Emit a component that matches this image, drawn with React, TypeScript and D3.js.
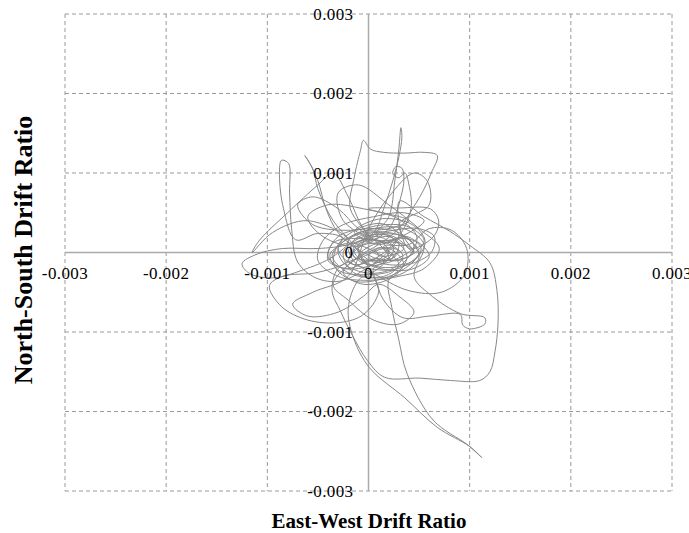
import React from "react";
import * as d3 from "d3";

// Axis ticks (drift ratio, in units of 1e-3 for the scales)
const tickValues = [-3, -2, -1, 0, 1, 2, 3];
const xTickLabels = ["-0.003", "-0.002", "-0.001", "0", "0.001", "0.002", "0.003"];
const yTickLabels = ["-0.003", "-0.002", "-0.001", "0", "0.001", "0.002", "0.003"];

// Drift orbit, [East-West, North-South] in units of 1e-3
const orbitStart: [number, number][] = [
  [0, 0], [0.12, 0.06], [0.2, -0.06], [0.08, -0.16], [-0.1, -0.1], [-0.18, 0.06], [-0.04, 0.16],
  [0.18, 0.12], [0.34, -0.04], [0.24, -0.2], [0.0, -0.26], [-0.24, -0.14], [-0.3, 0.06], [-0.12, 0.22],
  [0.14, 0.26], [0.4, 0.16], [0.5, -0.06], [0.34, -0.26], [0.04, -0.32], [-0.22, -0.24], [-0.36, -0.04],
  [-0.26, 0.18],
];
const orbitLeftLoop: [number, number][] = [
  [-0.5, 0.24], [-0.72, 0.16], [-0.84, 0.55], [-0.88, 0.98], [-0.86, 1.16], [-0.79, 1.12], [-0.78, 0.75],
  [-0.76, 0.3], [-0.7, -0.12], [-0.52, -0.32], [-0.28, -0.36], [-0.02, -0.2],
  [0.2, 0.02], [0.3, 0.22], [0.14, 0.36], [-0.1, 0.3], [-0.3, 0.1], [-0.34, -0.16], [-0.14, -0.36],
  [0.16, -0.32], [0.44, -0.12], [0.56, 0.14], [0.42, 0.36], [0.1, 0.42], [-0.14, 0.26],
];
const orbitCoreA: [number, number][] = [
  [0.1, 0.1], [0.3, 0.18], [0.5, 0.12], [0.6, -0.05], [0.45, -0.2], [0.2, -0.22], [-0.05, -0.12],
  [-0.15, 0.05], [0.0, 0.2], [0.25, 0.28], [0.5, 0.3], [0.65, 0.2], [0.62, 0.0], [0.4, -0.15],
  [0.1, -0.18], [-0.1, -0.05], [0.05, 0.1], [0.3, 0.12], [0.45, 0.02], [0.3, -0.1], [0.05, -0.08],
  [-0.2, -0.2], [-0.4, -0.1], [-0.35, 0.12], [-0.1, 0.18], [0.2, 0.15], [0.4, 0.25], [0.55, 0.4],
  [0.35, 0.5], [0.05, 0.45], [-0.25, 0.35], [-0.45, 0.15], [-0.5, -0.1], [-0.3, -0.3], [0.0, -0.35],
  [0.3, -0.3], [0.55, -0.2], [0.7, 0.05], [0.5, 0.3], [0.2, 0.6], [-0.1, 0.85], [-0.3, 0.75],
  [-0.25, 0.4], [0.0, 0.2],
];
const orbitUpperLobe: [number, number][] = [
  [-0.18, 0.55], [-0.14, 0.95], [-0.08, 1.28], [-0.05, 1.41], [0.02, 1.3], [0.15, 1.26], [0.35, 1.25],
  [0.55, 1.26], [0.68, 1.22], [0.62, 1.0], [0.55, 0.8], [0.45, 0.58], [0.3, 0.3], [0.1, 0.1],
  [-0.1, -0.05], [-0.25, -0.25], [-0.05, -0.4], [0.25, -0.3], [0.38, -0.05], [0.25, 0.15], [0.0, 0.12],
  [0.2, 0.45], [0.26, 0.9], [0.3, 1.3], [0.32, 1.57], [0.33, 1.45], [0.3, 1.2], [0.24, 0.9], [0.15, 0.55],
  [0.05, 0.25],
];
const orbitLeftExtreme: [number, number][] = [
  [-0.2, 0.1], [-0.5, 0.05], [-0.85, 0.05], [-1.1, -0.02], [-1.25, -0.14], [-1.18, -0.26], [-0.95, -0.32],
  [-0.65, -0.22], [-0.35, -0.05], [-0.2, 0.15], [-0.6, 0.4], [-0.95, 0.25], [-1.15, 0.0], [-1.08, 0.15],
  [-0.8, 0.5], [-0.5, 0.85], [-0.35, 1.0], [-0.2, 0.7], [-0.05, 0.3],
  [0.15, 0.05], [0.3, -0.15], [0.15, -0.3], [-0.15, -0.25], [-0.25, 0.0], [-0.05, 0.2], [0.25, 0.2],
  [0.45, 0.0],
];
const orbitCoreB: [number, number][] = [
  [0.3, 0.35], [0.6, 0.6], [0.58, 0.9], [0.45, 1.0], [0.2, 0.7], [0.0, 0.3], [-0.2, -0.3],
  [-0.55, -0.5], [-0.75, -0.65], [-0.6, -0.8], [-0.3, -0.75], [-0.05, -0.55], [0.1, -0.4], [0.3, -0.55],
  [0.45, -0.75], [0.3, -0.9], [0.05, -0.85], [-0.2, -0.6], [-0.35, -0.4], [0.0, 0.0], [0.15, -0.05],
  [0.35, 0.05], [0.2, 0.2], [-0.05, 0.1], [-0.2, -0.1], [0.0, -0.2], [0.3, -0.2], [0.5, 0.0], [0.35, 0.2],
  [0.1, 0.22], [-0.1, 0.05], [0.05, -0.12], [0.25, -0.05], [0.15, 0.08], [0.4, 0.1],
];
const orbitRightFlag: [number, number][] = [
  [0.6, 0.3], [0.82, 0.28], [0.97, 0.05], [0.95, -0.28], [0.72, -0.5], [0.4, -0.48], [0.1, -0.3],
  [-0.15, -0.1], [-0.2, 0.15], [0.05, 0.3], [0.35, 0.3], [0.55, 0.1],
  [0.45, -0.3], [0.6, -0.52], [0.91, -0.77], [1.15, -0.82], [1.15, -0.9], [1.0, -0.96], [0.93, -0.91],
  [0.91, -0.78], [0.6, -0.8], [0.34, -0.82], [0.15, -0.6], [0.05, -0.3],
];
const orbitTopLeft: [number, number][] = [
  [-0.15, 0.1], [-0.35, 0.4], [-0.5, 0.8], [-0.55, 1.05], [-0.63, 1.22], [-0.58, 1.12], [-0.5, 0.9],
  [-0.42, 0.55], [-0.3, 0.25], [-0.05, 0.0], [0.2, -0.1], [0.3, 0.1], [0.1, 0.25], [-0.15, 0.15],
  [-0.2, -0.1], [-0.5, -0.25], [-0.85, -0.3], [-0.98, -0.42], [-0.86, -0.68], [-0.6, -0.85],
  [-0.28, -0.88], [-0.05, -0.78], [0.1, -0.5], [0.05, -0.2],
];
const orbitCoreC: [number, number][] = [
  [0.25, -0.1], [0.45, 0.08], [0.3, 0.25], [0.0, 0.3], [-0.3, 0.2], [-0.4, -0.05], [-0.25, -0.2],
  [0.05, -0.15], [0.2, 0.0], [0.1, 0.15], [-0.1, 0.1], [-0.15, -0.05], [0.1, -0.1], [0.4, -0.05],
  [0.55, 0.15], [0.4, 0.32], [0.15, 0.35], [-0.15, 0.28], [-0.55, 0.35], [-0.7, 0.6], [-0.55, 0.7],
  [-0.3, 0.55], [-0.1, 0.3],
];
const orbitCoreD: [number, number][] = [
  [0.15, 0.12], [0.38, 0.2], [0.52, 0.05], [0.42, -0.12], [0.18, -0.15], [0.0, -0.05], [0.12, 0.06],
  [0.3, 0.02], [0.22, -0.08], [0.05, 0.02], [-0.2, 0.12], [-0.38, -0.02], [-0.3, -0.22], [-0.05, -0.28],
  [0.28, -0.2], [0.48, 0.18], [0.3, 0.42], [-0.05, 0.55], [-0.4, 0.6], [-0.6, 0.45], [-0.45, 0.2],
  [-0.1, 0.08],
];
const orbitSpiral: [number, number][] = [
  [0.2, 0.3], [0.32, 0.7], [0.35, 0.92], [0.33, 1.06], [0.27, 1.08], [0.24, 0.99], [0.3, 0.94],
  [0.36, 1.0], [0.4, 0.85], [0.42, 0.55], [0.3, 0.2], [0.1, -0.05], [-0.15, -0.15], [-0.3, 0.05],
  [-0.1, 0.25], [0.2, 0.3], [0.4, 0.4], [0.0, 0.55], [0.3, 0.56], [0.61, 0.55], [0.69, 0.42],
  [0.68, 0.28], [0.6, 0.15], [0.4, 0.05], [0.3, 0.4],
];
const orbitBigLoop: [number, number][] = [
  [0.31, 0.65], [0.55, 0.45], [0.8, 0.27], [1.0, 0.09], [1.2, -0.13], [1.27, -0.48], [1.28, -0.9],
  [1.25, -1.25], [1.2, -1.5], [1.1, -1.61], [0.81, -1.61], [0.51, -1.58], [0.16, -1.57], [-0.01, -1.36],
  [-0.16, -1.04], [-0.28, -0.73], [-0.36, -0.48], [-0.3, -0.2], [-0.05, -0.05], [0.2, 0.05],
  [0.35, -0.15], [0.2, -0.35], [0.23, -0.69],
];
const orbitTail: [number, number][] = [
  [0.3, -1.1], [0.38, -1.52], [0.64, -2.11], [0.98, -2.42], [1.12, -2.58], [1.0, -2.44], [0.68, -2.2],
  [0.36, -1.83], [0.01, -1.45], [-0.15, -1.07], [-0.2, -0.7], [-0.1, -0.35], [0.1, -0.2], [0.25, 0.05],
  [0.1, 0.2], [-0.1, 0.1], [-0.05, -0.1], [0.1, -0.05], [0.05, 0.05],
];

const orbit = [
  ...orbitStart, ...orbitLeftLoop, ...orbitCoreA, ...orbitUpperLobe, ...orbitLeftExtreme, ...orbitCoreB,
  ...orbitRightFlag, ...orbitTopLeft, ...orbitCoreC, ...orbitCoreD, ...orbitSpiral, ...orbitBigLoop,
  ...orbitTail,
];

const W = 689;
const H = 533;
const left = 65, right = 672, top = 14, bottom = 491;
const serif = "'Liberation Serif', 'Times New Roman', Times, serif";

export default function App() {
  const x = d3.scaleLinear().domain([-3, 3]).range([left, right]);
  const y = d3.scaleLinear().domain([-3, 3]).range([bottom, top]);
  const line = d3
    .line<[number, number]>()
    .x((d) => x(d[0]))
    .y((d) => y(d[1]))
    .curve(d3.curveCatmullRom.alpha(0.5));
  const x0 = x(0);
  const y0 = y(0);
  const grid = "#9a9a9a";
  return (
    <svg
      width={W}
      height={H}
      style={{ position: "absolute", left: 0, top: 0, background: "#fff", fontFamily: serif }}
    >
      <rect x={0} y={0} width={W} height={H} fill="#fff" />
      {tickValues.map((t) => (
        <line key={"gx" + t} x1={x(t)} x2={x(t)} y1={top} y2={bottom} stroke={grid} strokeDasharray="4,3" strokeWidth={1} />
      ))}
      {tickValues.map((t) => (
        <line key={"gy" + t} x1={left} x2={right} y1={y(t)} y2={y(t)} stroke={grid} strokeDasharray="4,3" strokeWidth={1} />
      ))}
      <line x1={left} x2={right} y1={y0} y2={y0} stroke="#aaaaaa" strokeWidth={1.5} />
      <line x1={x0} x2={x0} y1={top} y2={bottom} stroke="#aaaaaa" strokeWidth={1.5} />
      <path d={line(orbit) || ""} fill="none" stroke="#888888" strokeWidth={1} />
      {tickValues.map((t, i) => (
        <text key={"xl" + t} x={x(t)} y={y0 + 26} textAnchor="middle" fontSize={17} letterSpacing={0.4}
          fontFamily={serif} fill="#000">
          {xTickLabels[i]}
        </text>
      ))}
      {tickValues.map((t, i) => (
        <text key={"yl" + t} x={x0 - 15} y={y(t) + 5.5} textAnchor="end" fontSize={17} letterSpacing={0.4}
          fontFamily={serif} fill="#000">
          {yTickLabels[i]}
        </text>
      ))}
      <text x={369} y={528} textAnchor="middle" fontSize={21} fontWeight="bold" fontFamily={serif} fill="#000">
        East-West Drift Ratio
      </text>
      <text
        transform={`translate(32,${250}) rotate(-90)`}
        textAnchor="middle"
        fontSize={26}
        fontWeight="bold"
        fontFamily={serif}
        fill="#000"
      >
        North-South Drift Ratio
      </text>
    </svg>
  );
}
